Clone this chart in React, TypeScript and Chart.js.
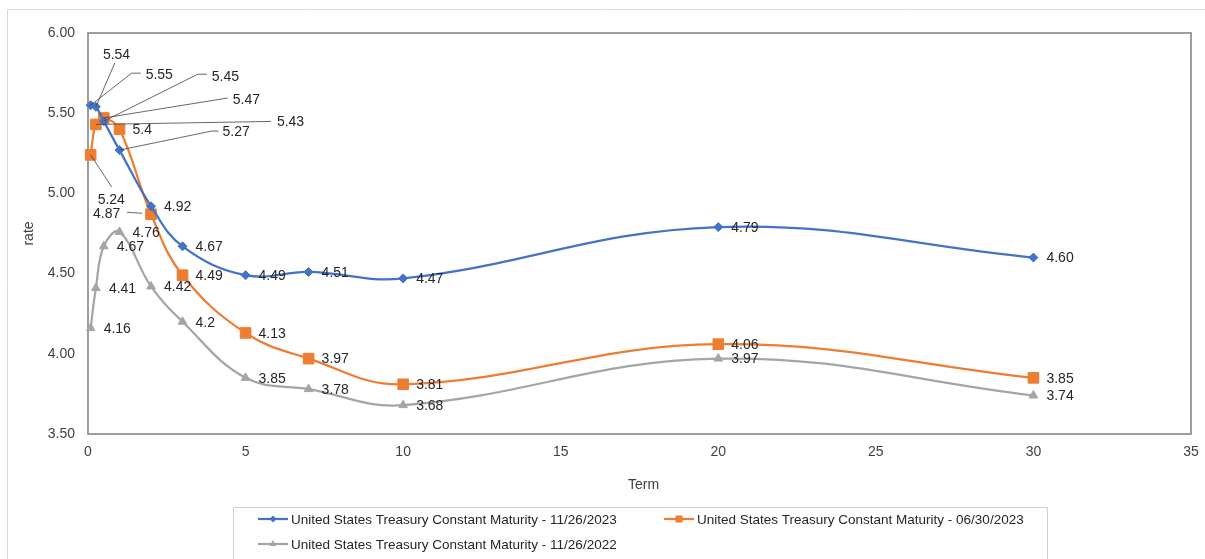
import React, { useEffect, useRef } from "react";
import { Chart, registerables } from "chart.js";

Chart.register(...registerables);

// Maturities in years: 1M, 3M, 6M, 1Y, 2Y, 3Y, 5Y, 7Y, 10Y, 20Y, 30Y
const terms = [1 / 12, 0.25, 0.5, 1, 2, 3, 5, 7, 10, 20, 30];

const seriesNames = [
  "United States Treasury Constant Maturity - 11/26/2023",
  "United States Treasury Constant Maturity - 06/30/2023",
  "United States Treasury Constant Maturity - 11/26/2022",
];

const rates20231126 = [5.55, 5.54, 5.45, 5.27, 4.92, 4.67, 4.49, 4.51, 4.47, 4.79, 4.6];
const rates20230630 = [5.24, 5.43, 5.47, 5.4, 4.87, 4.49, 4.13, 3.97, 3.81, 4.06, 3.85];
const rates20221126 = [4.16, 4.41, 4.67, 4.76, 4.42, 4.2, 3.85, 3.78, 3.68, 3.97, 3.74];

const yTicks = [3.5, 4.0, 4.5, 5.0, 5.5, 6.0];
const xTicks = [0, 5, 10, 15, 20, 25, 30, 35];

const FONT = '"Liberation Sans", Arial, sans-serif';
const TEXT = "#404040";

// Label formatting per series (first series keeps two decimals)
const labelFormat = [
  (v: number) => v.toFixed(2),
  (v: number) => String(v),
  (v: number) => String(v),
];

// Moved labels: text offset from the marker and leader-line bend points (pixels)
type Callout = { dx: number; dy: number; leader?: [number, number][] };
const callouts: Record<string, Callout> = {
  "0:0": { dx: 55, dy: -31, leader: [[41, -32], [50, -32]] },
  "0:1": { dx: 7, dy: -53, leader: [[19, -44]] },
  "0:2": { dx: 108, dy: -45, leader: [[94, -47], [103, -47]] },
  "0:3": { dx: 103, dy: -19, leader: [[92, -19], [99, -19]] },
  "1:0": { dx: 7, dy: 44, leader: [[21, 32]] },
  "1:1": { dx: 181, dy: -3, leader: [[175, -3]] },
  "1:2": { dx: 129, dy: -19, leader: [[124, -20]] },
  "1:4": { dx: -58, dy: -1 },
};
const leftLeaders: Record<string, [number, number][]> = {
  "1:4": [[-24, -2], [-9, -1]],
};

// Small legend marker in the same shape as the series points
function legendMarker(ctx: CanvasRenderingContext2D, style: string, x: number, y: number, color: string) {
  ctx.fillStyle = color;
  ctx.beginPath();
  if (style === "rectRot") {
    const r = 3.5;
    ctx.moveTo(x, y - r);
    ctx.lineTo(x + r, y);
    ctx.lineTo(x, y + r);
    ctx.lineTo(x - r, y);
  } else if (style === "rect") {
    ctx.rect(x - 3.5, y - 3.5, 7, 7);
  } else {
    const r = 4;
    ctx.moveTo(x, y - r);
    ctx.lineTo(x + r * 0.866, y + r * 0.5);
    ctx.lineTo(x - r * 0.866, y + r * 0.5);
  }
  ctx.closePath();
  ctx.fill();
}

const frameAndLabels = {
  id: "frameAndLabels",
  beforeDatasetsDraw(chart: any) {
    const { ctx, chartArea: a } = chart;
    ctx.save();
    // outer chart border (top and left)
    ctx.strokeStyle = "#d9d9d9";
    ctx.lineWidth = 1;
    ctx.beginPath();
    ctx.moveTo(7.5, 560);
    ctx.lineTo(7.5, 9.5);
    ctx.lineTo(1205, 9.5);
    ctx.stroke();
    // plot area frame
    ctx.strokeStyle = "#868686";
    ctx.lineWidth = 1.6;
    ctx.strokeRect(a.left, a.top, a.right - a.left, a.bottom - a.top);
    ctx.restore();
  },
  afterDatasetsDraw(chart: any) {
    const { ctx, chartArea: a } = chart;
    ctx.save();
    ctx.font = `14px ${FONT}`;
    ctx.textAlign = "left";
    ctx.textBaseline = "middle";
    chart.data.datasets.forEach((ds: any, di: number) => {
      const meta = chart.getDatasetMeta(di);
      meta.data.forEach((pt: any, pi: number) => {
        const key = `${di}:${pi}`;
        const v = ds.data[pi].y;
        const text = labelFormat[di](v);
        const c = callouts[key];
        const dx = c ? c.dx : 13;
        const dy = c ? c.dy : 0;
        const lead = c && c.leader ? c.leader : null;
        ctx.strokeStyle = "#404040";
        ctx.lineWidth = 0.8;
        if (lead) {
          ctx.beginPath();
          ctx.moveTo(pt.x, pt.y);
          lead.forEach(([lx, ly]) => ctx.lineTo(pt.x + lx, pt.y + ly));
          ctx.stroke();
        }
        const ll = leftLeaders[key];
        if (ll) {
          ctx.beginPath();
          ctx.moveTo(pt.x + ll[0][0], pt.y + ll[0][1]);
          ctx.lineTo(pt.x + ll[1][0], pt.y + ll[1][1]);
          ctx.stroke();
        }
        ctx.fillStyle = "#262626";
        ctx.fillText(text, pt.x + dx, pt.y + dy + 1);
      });
    });

    // axis titles
    ctx.fillStyle = TEXT;
    ctx.font = `14px ${FONT}`;
    ctx.textAlign = "center";
    ctx.fillText("Term", (a.left + a.right) / 2 + 4, 485);
    ctx.save();
    ctx.translate(29, (a.top + a.bottom) / 2);
    ctx.rotate(-Math.PI / 2);
    ctx.fillText("rate", 0, 0);
    ctx.restore();

    // legend box
    ctx.strokeStyle = "#d0d0d0";
    ctx.lineWidth = 1;
    ctx.beginPath();
    ctx.moveTo(233.5, 565);
    ctx.lineTo(233.5, 507.5);
    ctx.lineTo(1047.5, 507.5);
    ctx.lineTo(1047.5, 565);
    ctx.stroke();

    const slots = [
      { x: 258, y: 519 },
      { x: 664, y: 519 },
      { x: 258, y: 544 },
    ];
    chart.data.datasets.forEach((ds: any, di: number) => {
      const s = slots[di];
      ctx.strokeStyle = ds.borderColor;
      ctx.lineWidth = 2.25;
      ctx.beginPath();
      ctx.moveTo(s.x, s.y);
      ctx.lineTo(s.x + 30, s.y);
      ctx.stroke();
      legendMarker(ctx, ds.pointStyle, s.x + 15, s.y, ds.borderColor);
      ctx.fillStyle = "#262626";
      ctx.font = `13.5px ${FONT}`;
      ctx.textAlign = "left";
      ctx.fillText(ds.label, s.x + 33, s.y + 1);
    });
    ctx.restore();
  },
};

function makeDataset(label: string, values: number[], color: string, style: string, radius: number) {
  return {
    label,
    data: terms.map((t, i) => ({ x: t, y: values[i] })),
    borderColor: color,
    backgroundColor: color,
    pointBackgroundColor: color,
    pointBorderColor: color,
    pointStyle: style,
    pointRadius: radius,
    pointBorderWidth: 1,
    borderWidth: 2.25,
    tension: 0.4,
    clip: false,
  };
}

export default function App() {
  const ref = useRef<HTMLCanvasElement | null>(null);

  useEffect(() => {
    if (!ref.current) return;
    const chart = new Chart(ref.current, {
      type: "line",
      data: {
        datasets: [
          makeDataset(seriesNames[0], rates20231126, "#4472C4", "rectRot", 4.5),
          makeDataset(seriesNames[1], rates20230630, "#ED7D31", "rect", 7.5),
          makeDataset(seriesNames[2], rates20221126, "#A5A5A5", "triangle", 5),
        ],
      },
      options: {
        responsive: false,
        animation: false,
        layout: { autoPadding: false, padding: { left: 0, right: 14, top: 33, bottom: 0 } },
        plugins: { legend: { display: false }, tooltip: { enabled: false } },
        scales: {
          x: {
            type: "linear",
            min: 0,
            max: 35,
            afterFit: (s: any) => {
              s.height = 125;
              s.paddingLeft = 0;
              s.paddingRight = 0;
            },
            afterBuildTicks: (s: any) => {
              s.ticks = xTicks.map((v) => ({ value: v }));
            },
            grid: { display: false, drawTicks: false },
            border: { display: false },
            ticks: { color: TEXT, font: { family: FONT, size: 14 }, padding: 10, maxRotation: 0 },
          },
          y: {
            type: "linear",
            min: 3.5,
            max: 6,
            afterFit: (s: any) => {
              s.width = 88;
              s.paddingTop = 0;
              s.paddingBottom = 0;
            },
            afterBuildTicks: (s: any) => {
              s.ticks = yTicks.map((v) => ({ value: v }));
            },
            grid: { display: false, drawTicks: false },
            border: { display: false },
            ticks: {
              color: TEXT,
              font: { family: FONT, size: 14 },
              padding: 13,
              callback: (v: any) => Number(v).toFixed(2),
            },
          },
        },
      },
      plugins: [frameAndLabels],
    });
    return () => chart.destroy();
  }, []);

  return (
    <div style={{ position: "absolute", left: 0, top: 0, width: 1205, height: 559, background: "#fff" }}>
      <canvas ref={ref} width={1205} height={559} style={{ display: "block" }} />
    </div>
  );
}
